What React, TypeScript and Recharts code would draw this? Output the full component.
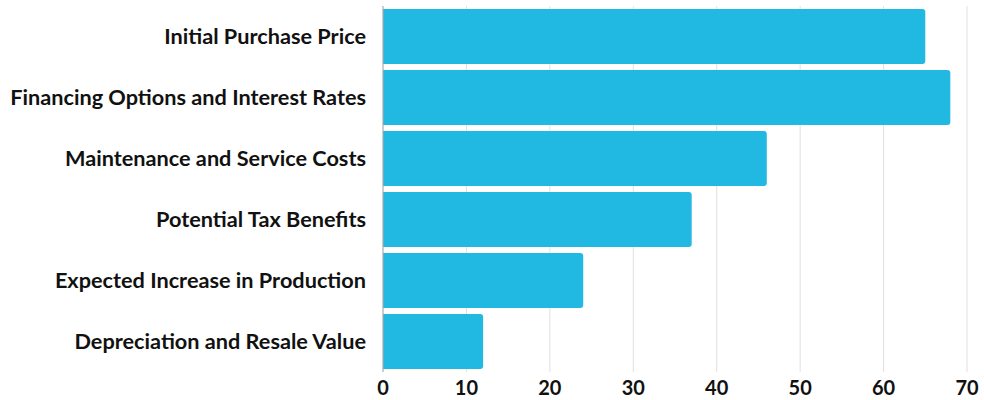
import { BarChart, Bar, XAxis, YAxis, CartesianGrid } from "recharts";

const categories = [
  "Initial Purchase Price",
  "Financing Options and Interest Rates",
  "Maintenance and Service Costs",
  "Potential Tax Benefits",
  "Expected Increase in Production",
  "Depreciation and Resale Value",
];
const values = [65, 68, 46, 37, 24, 12];
const xTicks = [0, 10, 20, 30, 40, 50, 60, 70];

const data = categories.map((name, i) => ({ name, value: values[i] }));

export default function App() {
  return (
    <div style={{ position: "absolute", left: 0, top: 0, fontFamily: "Lato, sans-serif" }}>
      <BarChart
        width={984}
        height={400}
        data={data}
        layout="vertical"
        margin={{ top: 6, right: 17, left: 0, bottom: 0 }}
        barCategoryGap="5%"
      >
        <CartesianGrid horizontal={false} stroke="#e0e0e0" />
        <XAxis
          type="number"
          domain={[0, 70]}
          ticks={xTicks}
          axisLine={false}
          tickLine={false}
          height={28}
          tickMargin={3}
          tick={{ fill: "#111", fontSize: 20, fontWeight: 700 }}
        />
        <YAxis
          type="category"
          dataKey="name"
          width={383}
          axisLine={{ stroke: "#aaa" }}
          tickLine={false}
          tickMargin={11}
          tick={{ fill: "#111", fontSize: 21.7, fontWeight: 700 }}
        />
        <Bar dataKey="value" fill="#21b8e1" radius={[0, 3, 3, 0]} isAnimationActive={false} />
      </BarChart>
    </div>
  );
}
